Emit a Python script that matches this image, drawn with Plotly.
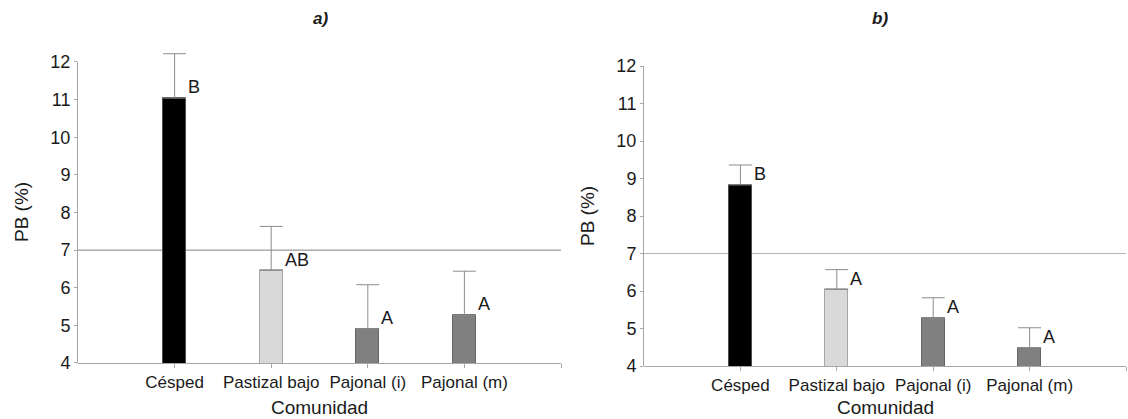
import plotly.graph_objects as go

# Communities and crude-protein means (PB %) with their standard errors
categories = ["Césped", "Pastizal bajo", "Pajonal (i)", "Pajonal (m)"]
pb_a = [11.04, 6.46, 4.91, 5.27]
se_a = [1.18, 1.17, 1.17, 1.17]
letters_a = ["B", "AB", "A", "A"]

pb_b = [8.83, 6.04, 5.28, 4.49]
se_b = [0.53, 0.53, 0.54, 0.53]
letters_b = ["B", "A", "A", "A"]

threshold = 7
y_ticks = [4, 5, 6, 7, 8, 9, 10, 11, 12]
panel_titles = ["a)", "b)"]

fill_colors = ["#000000", "#d9d9d9", "#808080", "#808080"]
edge_colors = ["#4d4d4d", "#a6a6a6", "#666666", "#666666"]

FONT = "Liberation Sans, Arial, sans-serif"
TXT = "#1a1a1a"
AXC = "#a6a6a6"
W, H = 1128, 419

positions = list(range(1, len(categories) + 1))
bar_w = 0.24
y_lo, y_hi = y_ticks[0], y_ticks[-1]
headroom = 0.45  # extra space above the top tick so tall error bars are not clipped

fig = go.Figure()


def y_domain(px_top, px_bottom):
    """Domain for a y-axis whose top tick sits at px_top and bottom at px_bottom."""
    per_unit = (px_bottom - px_top) / (y_hi - y_lo)
    top = px_top - headroom * per_unit
    return [(H - px_bottom) / H, (H - top) / H]


panels = [
    dict(vals=pb_a, se=se_a, letters=letters_a, xa="x", ya="y",
         xdom=[78 / W, 561 / W], ydom=y_domain(62, 363),
         line_col="#808080", title_x=320, ytitle_x=22, ymid_px=212, xtitle_y=407),
    dict(vals=pb_b, se=se_b, letters=letters_b, xa="x2", ya="y2",
         xdom=[644 / W, 1126 / W], ydom=y_domain(66, 366),
         line_col="#b4b4b4", title_x=880, ytitle_x=587, ymid_px=216, xtitle_y=407),
]

annotations = []
shapes = []
for k, p in enumerate(panels):
    fig.add_trace(go.Bar(
        x=positions, y=p["vals"], width=bar_w,
        marker=dict(color=fill_colors, line=dict(color=edge_colors, width=1)),
        error_y=dict(type="data", symmetric=False, array=p["se"],
                     arrayminus=[0] * len(p["se"]),
                     color="#8c8c8c", thickness=1, width=11.5),
        xaxis=p["xa"], yaxis=p["ya"], showlegend=False,
    ))
    # reference line at the threshold value
    shapes.append(dict(type="line", xref=p["xa"], yref=p["ya"],
                       x0=0, x1=len(categories) + 1, y0=threshold, y1=threshold,
                       line=dict(color=p["line_col"], width=1), layer="below"))
    # vertical axis line, running only from the lowest to the highest tick
    shapes.append(dict(type="line", xref="paper", yref=p["ya"],
                       x0=p["xdom"][0] - 0.5 / W, x1=p["xdom"][0] - 0.5 / W,
                       y0=y_lo, y1=y_hi,
                       line=dict(color=AXC, width=1), layer="above"))
    # significance letters beside each bar
    for xi, v, lab in zip(positions, p["vals"], p["letters"]):
        annotations.append(dict(x=xi + bar_w / 2, y=v + 0.29, xref=p["xa"], yref=p["ya"],
                                text=lab, showarrow=False, xanchor="left", yanchor="middle",
                                font=dict(family=FONT, size=18, color=TXT)))
    # panel title
    annotations.append(dict(x=p["title_x"] / W, y=1 - 19 / H, xref="paper", yref="paper",
                            text="<b><i>" + panel_titles[k] + "</i></b>", showarrow=False,
                            xanchor="center", yanchor="middle",
                            font=dict(family=FONT, size=17, color=TXT)))
    # axis titles
    annotations.append(dict(x=p["ytitle_x"] / W, y=1 - p["ymid_px"] / H,
                            xref="paper", yref="paper",
                            text="PB (%)", textangle=-90, showarrow=False,
                            xanchor="center", yanchor="middle",
                            font=dict(family=FONT, size=19, color=TXT)))
    xmid = (p["xdom"][0] + p["xdom"][1]) / 2
    annotations.append(dict(x=xmid, y=1 - p["xtitle_y"] / H, xref="paper", yref="paper",
                            text="Comunidad", showarrow=False,
                            xanchor="center", yanchor="middle",
                            font=dict(family=FONT, size=19, color=TXT)))

axis_common_x = dict(range=[0, len(categories) + 1], tickmode="array",
                     tickvals=positions + [len(categories) + 1],
                     ticktext=categories + [""],
                     showline=True, linecolor=AXC, linewidth=1,
                     ticks="outside", ticklen=4, tickcolor=AXC,
                     showgrid=False, zeroline=False, fixedrange=True,
                     automargin=False,
                     tickfont=dict(family=FONT, size=17, color=TXT))
axis_common_y = dict(range=[y_lo, y_hi + headroom], tickmode="array", tickvals=y_ticks,
                     showline=False,
                     ticks="outside", ticklen=3, tickcolor=AXC,
                     showgrid=False, zeroline=False, fixedrange=True,
                     automargin=False,
                     tickfont=dict(family=FONT, size=18, color=TXT))

fig.update_layout(
    width=W, height=H,
    margin=dict(l=0, r=0, t=0, b=0, autoexpand=False),
    paper_bgcolor="white", plot_bgcolor="white",
    xaxis=dict(domain=panels[0]["xdom"], anchor="y", **axis_common_x),
    yaxis=dict(domain=panels[0]["ydom"], anchor="x", **axis_common_y),
    xaxis2=dict(domain=panels[1]["xdom"], anchor="y2", **axis_common_x),
    yaxis2=dict(domain=panels[1]["ydom"], anchor="x2", **axis_common_y),
    annotations=annotations,
    shapes=shapes,
    bargap=0,
)

fig.write_html("out.html")
